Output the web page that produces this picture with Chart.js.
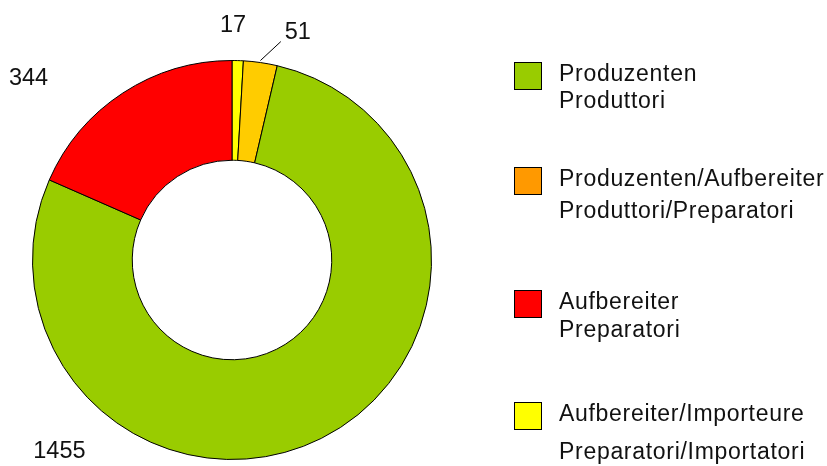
<!DOCTYPE html>
<html>
<head>
<meta charset="utf-8">
<script src="https://cdn.jsdelivr.net/npm/chart.js@4"></script>
<style>
  html, body { margin: 0; padding: 0; background: #fff; }
  #wrap { width: 827px; height: 466px; }
</style>
</head>
<body>
<div id="wrap"><canvas id="pieChart" width="827" height="466"></canvas></div>
<script>
// slices in drawing order (clockwise from top)
const categories = ['Aufbereiter/Importeure', 'Produzenten/Aufbereiter', 'Produzenten', 'Aufbereiter'];
const categoriesIt = ['Preparatori/Importatori', 'Produttori/Preparatori', 'Produttori', 'Preparatori'];
const values = [17, 51, 1455, 344];
const sliceColors = ['#ffff00', '#ffcc00', '#99cc00', '#ff0000'];
// legend order and colours
const legendOrder = [2, 1, 3, 0];
const legendColors = ['#ffff00', '#ff9900', '#99cc00', '#ff0000'];

// label placement relative to centre, in units of radius
const labelPos = [[0.005, -1.175], [0.33, -1.14], [-0.865, 0.96], [-1.02, -0.91]];
const legendRows = [[75, 102], [180, 212], [303, 331], [415, 453]];

const FONT = '"Liberation Sans", Arial, sans-serif';

const labelPlugin = {
    id: 'outLabels',
    afterDatasetsDraw(chart) {
        const ctx = chart.ctx;
        const arcs = chart.getDatasetMeta(0).data;
        ctx.save();
        ctx.font = '23.5px ' + FONT;
        ctx.fillStyle = '#111';
        ctx.textAlign = 'center';
        ctx.textBaseline = 'middle';
        arcs.forEach((arc, i) => {
            const r = arc.outerRadius;
            const x = arc.x + labelPos[i][0] * r;
            const y = arc.y + labelPos[i][1] * r;
            ctx.fillText(String(values[i]), x, y);
            if (i === 1) {
                // leader line from slice edge to label
                const mid = (arc.startAngle + arc.endAngle) / 2;
                const sx = arc.x + Math.cos(mid) * r;
                const sy = arc.y + Math.sin(mid) * r;
                ctx.strokeStyle = '#000';
                ctx.lineWidth = 1;
                ctx.beginPath();
                ctx.moveTo(sx, sy - 2);
                ctx.lineTo(x - 17, y + 9);
                ctx.stroke();
            }
        });
        ctx.restore();
    }
};

const legendPlugin = {
    id: 'sideLegend',
    afterDraw(chart) {
        const ctx = chart.ctx;
        const bx = chart.chartArea.right + 82;
        ctx.save();
        ctx.font = '23px ' + FONT;
        ctx.letterSpacing = '0.7px';
        ctx.textBaseline = 'middle';
        ctx.textAlign = 'left';
        legendOrder.forEach((k, row) => {
            const ys = legendRows[row];
            ctx.fillStyle = legendColors[k];
            ctx.fillRect(bx, ys[0] - 13, 27, 27);
            ctx.strokeStyle = '#000';
            ctx.lineWidth = 1;
            ctx.strokeRect(bx + 0.5, ys[0] - 12.5, 27, 27);
            ctx.fillStyle = '#111';
            ctx.fillText(categories[k], bx + 45, ys[0]);
            ctx.fillText(categoriesIt[k], bx + 45, ys[1]);
        });
        ctx.restore();
    }
};

const pieChart = new Chart(document.getElementById('pieChart').getContext('2d'), {
    type: 'doughnut',
    data: {
        labels: categories,
        datasets: [{
            data: values,
            backgroundColor: sliceColors,
            borderColor: '#000',
            borderWidth: 1
        }]
    },
    options: {
        responsive: false,
        animation: false,
        cutout: '50%',
        layout: {
            padding: { top: 60, bottom: 6, left: 32, right: 395 }
        },
        plugins: {
            legend: { display: false },
            tooltip: { enabled: false }
        }
    },
    plugins: [labelPlugin, legendPlugin]
});
</script>
</body>
</html>
